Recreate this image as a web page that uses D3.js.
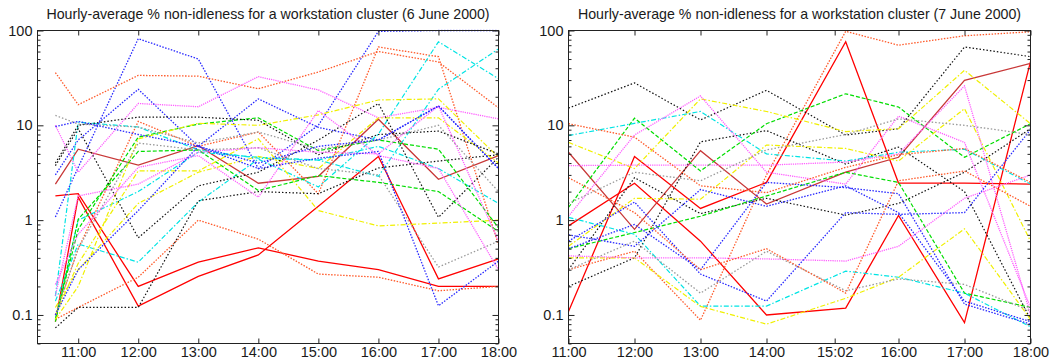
<!DOCTYPE html>
<html>
<head>
<meta charset="utf-8">
<script src="https://cdn.jsdelivr.net/npm/d3@7"></script>
<style>
  body { margin: 0; background: #fff; }
  svg { display: block; font-family: "Liberation Sans", Arial, sans-serif; }
</style>
</head>
<body>
<svg id="chart"></svg>
<script>
(() => {

  // times in decimal hours
  const timesDay6 = [10.62, 11, 12, 13, 14, 15, 16, 17, 18];
  const timesDay7 = [11, 12, 13, 14, 15.2, 16, 17, 18];

  const xTicksDay6 = [11, 12, 13, 14, 15, 16, 17, 18];
  const xLabelsDay6 = ['11:00', '12:00', '13:00', '14:00', '15:00', '16:00', '17:00', '18:00'];
  const xTicksDay7 = [11, 12, 13, 14, 15.033, 16, 17, 18];
  const xLabelsDay7 = ['11:00', '12:00', '13:00', '14:00', '15:02', '16:00', '17:00', '18:00'];

  const yTicks = [0.1, 1, 10, 100];
  const yLabels = ['0.1', '1', '10', '100'];

  const titles = [
    'Hourly-average % non-idleness for a workstation cluster (6 June 2000)',
    'Hourly-average % non-idleness for a workstation cluster (7 June 2000)'
  ];

  // one row per workstation
  const valuesDay6 = [
    [0.085, 1.75, 0.124, 0.255, 0.43, 1.4, 4.7, 0.24, 0.39],
    [1.8, 1.9, 0.2, 0.36, 0.51, 0.37, 0.30, 0.2, 0.2],
    [2.4, 5.6, 3.8, 6.1, 2.45, 2.9, 11.6, 2.7, 4.8],
    [1.08, 3.6, 82, 50, 3.5, 10, 98, 100, 100],
    [36, 16.5, 33.6, 33, 24.3, 36.5, 60, 46.5, 15.3],
    [0.1, 0.5, 11, 6, 8.5, 1.9, 67, 53, 0.55],
    [0.09, 0.12, 0.25, 1.0, 0.63, 0.27, 0.25, 0.18, 0.2],
    [10, 3.2, 17, 15.7, 32.6, 23.6, 12, 15.5, 11.7],
    [3.0, 7, 24, 6, 19, 9.5, 7, 16, 3.5],
    [0.158, 10.8, 9.6, 5.5, 4.5, 4.3, 6, 3.5, 1.5],
    [0.14, 0.56, 0.36, 1.55, 4.4, 2.24, 8.1, 76, 31],
    [0.09, 1.0, 2.0, 5.2, 4.6, 4.3, 2.9, 24, 64],
    [0.085, 1.02, 5.3, 5.5, 2.05, 2.95, 2.5, 2.0, 0.76],
    [0.09, 0.8, 7.5, 10.3, 12, 5.4, 7.0, 5.6, 0.83],
    [0.09, 0.2, 7.2, 10.5, 10, 12.9, 18.5, 19, 4.6],
    [0.1, 0.35, 3.3, 3.3, 7.2, 1.26, 0.87, 0.93, 1.0],
    [0.12, 0.3, 1.5, 3.2, 4.7, 3.5, 12, 12, 4],
    [0.073, 0.12, 0.12, 1.6, 2.0, 1.9, 3.55, 4.2, 4.9],
    [3.76, 9.2, 0.65, 2.3, 3.2, 7, 17, 1.07, 4.6],
    [4, 10, 12.2, 12.2, 11.3, 4.9, 8, 8.7, 5],
    [12.7, 10.3, 9.6, 6.5, 8.5, 5.6, 7, 10, 2],
    [0.1, 0.5, 6.5, 5.5, 5.8, 3.5, 3, 0.32, 0.6],
    [0.21, 0.71, 3.6, 4.8, 1.75, 14.3, 4.8, 3.5, 0.3],
    [0.16, 1.8, 2.4, 5.2, 5.8, 5.2, 5, 16, 0.6],
    [0.1, 0.3, 1.26, 6, 4, 6, 7, 16, 3.5],
    [9.7, 11, 8, 6, 3.5, 4.5, 5.3, 0.125, 0.37]
  ];
  const typesDay6 = [0, 0, 9, 2, 5, 5, 5, 3, 2, 4, 4, 4, 1, 1, 8, 8, 8, 6, 6, 6, 7, 7, 3, 3, 2, 2];

  const valuesDay7 = [
    [0.109, 4.68, 1.33, 2.5, 76, 2.46, 2.46, 2.4],
    [0.87, 2.45, 0.6, 0.1, 0.118, 1.12, 0.083, 47],
    [5.2, 0.8, 5.4, 1.48, 3.2, 4.6, 29.8, 45],
    [100, 100, 100, 100, 100, 100, 100, 100],
    [100, 100, 100, 100, 100, 100, 100, 100],
    [0.3, 0.47, 0.088, 3, 98, 70, 88, 97],
    [15.2, 28, 11.4, 23.4, 7.9, 9.2, 67, 53],
    [0.2, 0.4, 6.7, 8.8, 3.9, 5.9, 2.0, 0.09],
    [0.3, 2.8, 1.17, 1.7, 1.13, 1.5, 3.2, 9.2],
    [1.36, 11.9, 3.3, 10.4, 21.5, 15.6, 4.6, 10.4],
    [0.5, 0.74, 1.1, 1.8, 3.2, 2.5, 0.17, 0.12],
    [7.8, 10.5, 14, 5, 4.2, 5.2, 5.6, 2.4],
    [1.07, 0.71, 0.124, 0.124, 0.29, 0.25, 0.17, 0.075],
    [6.6, 3.5, 19, 14, 8.6, 9.2, 38, 10.4],
    [0.53, 1.7, 1.66, 6.2, 5.7, 4.2, 15, 0.6],
    [0.4, 0.4, 0.123, 0.08, 0.15, 0.25, 0.81, 0.09],
    [1.1, 7.9, 20.4, 3.2, 2.4, 12.5, 6.6, 0.12],
    [3.76, 3.8, 3.8, 3.8, 4.1, 5, 26, 0.1],
    [0.42, 0.4, 0.4, 0.39, 0.37, 0.53, 1.7, 3],
    [0.6, 1.55, 0.27, 0.14, 1.2, 1.15, 1.2, 9],
    [0.7, 0.53, 2.1, 1.4, 2.3, 1.2, 0.14, 0.085],
    [0.5, 0.9, 0.3, 2.5, 2.2, 1.9, 0.13, 0.08],
    [1.5, 3.2, 2.6, 5.5, 8, 11.7, 10, 8],
    [0.3, 0.6, 0.17, 0.47, 0.18, 0.24, 0.21, 0.11],
    [10.4, 7.5, 2.3, 1.95, 3.6, 4.9, 5.7, 2.5],
    [2.8, 1.2, 0.3, 0.5, 0.17, 2.6, 3.3, 1.4]
  ];
  const typesDay7 = [0, 0, 9, 1, 4, 5, 6, 6, 6, 1, 1, 4, 4, 8, 8, 8, 3, 3, 3, 2, 2, 2, 7, 7, 5, 5];

  // gnuplot-like line types
  const lineTypes = [
    { color: '#ff0000', dash: null, width: 1.3 },
    { color: '#00dd00', dash: '4,2', width: 1.2 },
    { color: '#2828ff', dash: '1.5,1.5', width: 1.3 },
    { color: '#ff5cff', dash: '1.2,1', width: 1.3 },
    { color: '#00e4e4', dash: '5,2,1.5,2', width: 1.2 },
    { color: '#ff5a2a', dash: '1.5,1.5', width: 1.3 },
    { color: '#111111', dash: '1.5,2', width: 1.2 },
    { color: '#999999', dash: '1.5,2', width: 1.3 },
    { color: '#f0f000', dash: '5,2,1.5,2', width: 1.2 },
    { color: '#c83838', dash: null, width: 1.3 }
  ];

  const svgWidth = 1056;
  const svgHeight = 363;

  const svg = d3.select('#chart')
    .attr('width', svgWidth)
    .attr('height', svgHeight);

  svg.append('rect')
    .attr('width', svgWidth)
    .attr('height', svgHeight)
    .attr('fill', '#fff');

  const minorTicks = [];
  [0.01, 0.1, 1, 10].forEach(d => {
    for (let k = 2; k <= 9; k++) {
      const v = d * k;
      if (v >= 0.05 && v < 100) minorTicks.push(+v.toPrecision(3));
    }
  });

  function drawPanel(opts) {
    const { left, right, top, bottom, xDomain, times, values, types,
            xTicks, xLabels, title, id } = opts;

    const g = svg.append('g');

    const xScale = d3.scaleLinear().domain(xDomain).range([left, right]);
    const yScale = d3.scaleLog().domain([0.05, 100]).range([bottom, top]);

    g.append('clipPath')
      .attr('id', id)
      .append('rect')
      .attr('x', left)
      .attr('y', top - 1)
      .attr('width', right - left)
      .attr('height', bottom - top + 1);

    const line = d3.line()
      .x((d, i) => xScale(times[i]))
      .y(d => yScale(d));

    g.append('g')
      .attr('clip-path', `url(#${id})`)
      .selectAll('path')
      .data(values)
      .enter()
      .append('path')
      .attr('d', d => line(d))
      .attr('fill', 'none')
      .attr('stroke', (d, i) => lineTypes[types[i]].color)
      .attr('stroke-width', (d, i) => lineTypes[types[i]].width)
      .attr('stroke-dasharray', (d, i) => lineTypes[types[i]].dash);

    const styleAxis = (sel) => {
      sel.select('.domain').remove();
      sel.selectAll('line').attr('stroke', '#222');
      sel.selectAll('text')
        .attr('fill', '#1a1a1a')
        .style('font-size', '14.5px')
        .style('font-family', '"Liberation Sans", Arial, sans-serif');
    };

    // y axes (left labelled, right mirrored)
    g.append('g')
      .attr('transform', `translate(${left},0)`)
      .call(d3.axisLeft(yScale).tickValues(yTicks)
        .tickFormat((d, i) => yLabels[i]).tickSize(-6).tickPadding(5))
      .call(styleAxis);
    g.append('g')
      .attr('transform', `translate(${left},0)`)
      .call(d3.axisLeft(yScale).tickValues(minorTicks).tickFormat('').tickSize(-3))
      .call(styleAxis);
    g.append('g')
      .attr('transform', `translate(${right},0)`)
      .call(d3.axisRight(yScale).tickValues(yTicks).tickFormat('').tickSize(-6))
      .call(styleAxis);
    g.append('g')
      .attr('transform', `translate(${right},0)`)
      .call(d3.axisRight(yScale).tickValues(minorTicks).tickFormat('').tickSize(-3))
      .call(styleAxis);

    // x axes
    g.append('g')
      .attr('transform', `translate(0,${bottom})`)
      .call(d3.axisBottom(xScale).tickValues(xTicks)
        .tickFormat((d, i) => xLabels[i]).tickSize(-5).tickPadding(3))
      .call(styleAxis);
    g.append('g')
      .attr('transform', `translate(0,${top})`)
      .call(d3.axisTop(xScale).tickValues(xTicks).tickFormat('').tickSize(-5))
      .call(styleAxis);

    g.append('rect')
      .attr('x', left)
      .attr('y', top)
      .attr('width', right - left)
      .attr('height', bottom - top)
      .attr('fill', 'none')
      .attr('stroke', '#222')
      .attr('stroke-width', 1);

    g.append('text')
      .attr('x', (left + right) / 2)
      .attr('y', 19)
      .attr('text-anchor', 'middle')
      .attr('fill', '#1a1a1a')
      .style('font-size', '14.2px')
      .text(title);
  }

  drawPanel({
    id: 'clip6', left: 37.5, right: 498.5, top: 30.5, bottom: 343.5,
    xDomain: [10.322, 18], times: timesDay6, values: valuesDay6, types: typesDay6,
    xTicks: xTicksDay6, xLabels: xLabelsDay6, title: titles[0]
  });

  drawPanel({
    id: 'clip7', left: 568.5, right: 1030.5, top: 30.5, bottom: 343.5,
    xDomain: [11, 18], times: timesDay7, values: valuesDay7, types: typesDay7,
    xTicks: xTicksDay7, xLabels: xLabelsDay7, title: titles[1]
  });

})();
</script>
</body>
</html>
